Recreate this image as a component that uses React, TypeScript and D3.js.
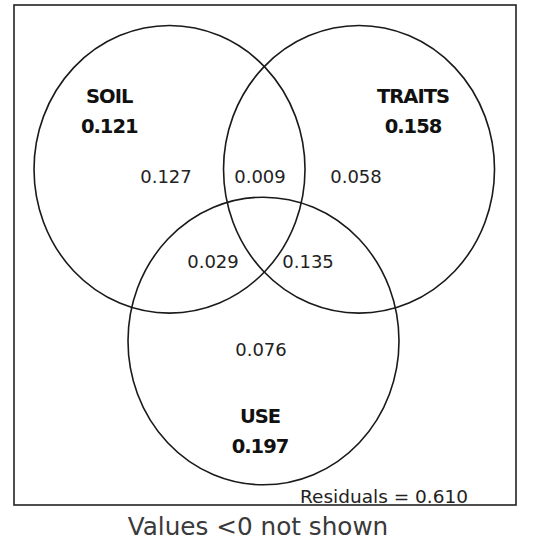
import React from "react";
import * as d3 from "d3";

// Venn components (variation partitioning)
const sets = ["SOIL", "TRAITS", "USE"];
const setValues = ["0.121", "0.158", "0.197"];
// fractions: a (SOIL only), b (TRAITS only), c (USE only), ab, ac, bc
const fractionLabels = ["0.127", "0.058", "0.076", "0.009", "0.029", "0.135"];
const fractionKeys = ["a", "b", "c", "ab", "ac", "bc"];
const residual = "0.610";
const footnote = "Values <0 not shown";

export default function App() {
  const W = 550, H = 542;
  const x = d3.scaleLinear().domain([0, 1]).range([14, 516]);
  const y = d3.scaleLinear().domain([0, 1]).range([5, 505]);
  const rx = 135.5, ry = 143.8;
  const centers: Record<string, [number, number]> = {
    SOIL: [0.3098, 0.3286],
    TRAITS: [0.6873, 0.3286],
    USE: [0.4970, 0.672],
  };
  const setLabelPos: Record<string, [number, number]> = {
    SOIL: [0.1897, 0.196],
    TRAITS: [0.7948, 0.196],
    USE: [0.4900, 0.836],
  };
  const fracPos: Record<string, [number, number]> = {
    a: [0.3028, 0.356],
    b: [0.6813, 0.356],
    c: [0.4920, 0.702],
    ab: [0.4900, 0.356],
    ac: [0.3964, 0.526],
    bc: [0.5857, 0.526],
  };
  const font = "'DejaVu Sans', sans-serif";
  return (
    <svg width={W} height={H} style={{ position: "absolute", left: 0, top: 0, background: "#fff" }}>
      <rect x={x(0)} y={y(0)} width={x(1) - x(0)} height={y(1) - y(0)} fill="none" stroke="#222" strokeWidth={1.6} />
      {sets.map((s) => (
        <ellipse key={s} cx={x(centers[s][0])} cy={y(centers[s][1])} rx={rx} ry={ry} fill="none" stroke="#1a1a1a" strokeWidth={1.6} />
      ))}
      {sets.map((s, i) => (
        <g key={s + "l"} fontFamily={font} fontWeight="bold" fontSize={19.5} fill="#111" textAnchor="middle" letterSpacing={-1}>
          <text x={x(setLabelPos[s][0])} y={y(setLabelPos[s][1])}>{s}</text>
          <text x={x(setLabelPos[s][0])} y={y(setLabelPos[s][1]) + 30}>{setValues[i]}</text>
        </g>
      ))}
      {fractionKeys.map((k, i) => (
        <text key={k} x={x(fracPos[k][0])} y={y(fracPos[k][1])} fontFamily={font} fontSize={18} fill="#222" textAnchor="middle">
          {fractionLabels[i]}
        </text>
      ))}
      <text x={468} y={503} textAnchor="end" fontFamily={font} fontSize={18.5} fill="#222">
        {"Residuals = " + residual}
      </text>
      <text x={258} y={535} textAnchor="middle" fontFamily={font} fontSize={24.7} fill="#3a3a3a">
        {footnote}
      </text>
    </svg>
  );
}
